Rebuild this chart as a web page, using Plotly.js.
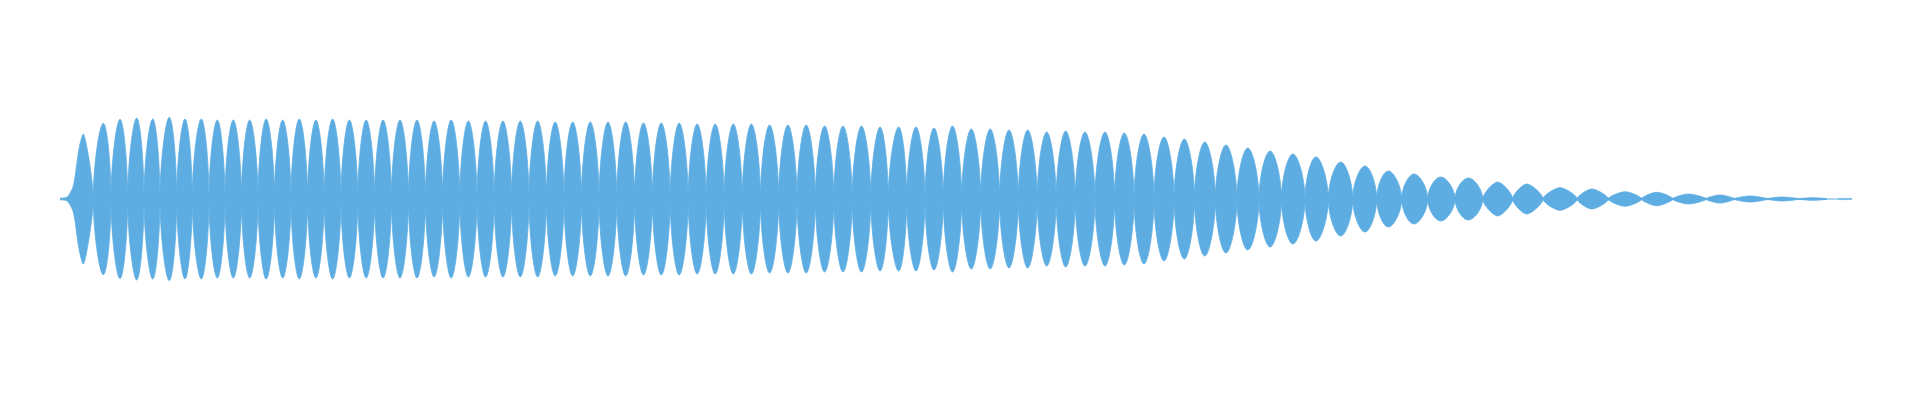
<!DOCTYPE html>
<html>
<head>
<meta charset="utf-8">
<script src="https://cdn.plot.ly/plotly-3.0.1.min.js"></script>
<style>html,body{margin:0;padding:0;background:#fff;}#chart{width:1920px;height:400px;}</style>
</head>
<body>
<div id="chart"></div>
<script>
// Onset of the waveform (first lobe, rising edge): time and amplitude
const onsetTime = [60, 66, 70, 73, 75, 78.3, 81, 83.3];
const onsetAmp  = [0.007, 0.01, 0.057, 0.12, 0.22, 0.46, 0.59, 0.65];
const onsetEnd  = 93.3;   // first zero crossing after the onset lobe

// Lobe peak times (time units), peak amplitudes, and zero-crossing times of the waveform
const peakTime = [
  103.3, 120, 136.7, 152.7, 169.3, 185, 201.3, 217.3, 233.3,
  249.7, 266.2, 282.7, 299.3, 315.9, 332.6, 349.4, 366.2, 383.1, 400.0,
  417.0, 434.1, 451.2, 468.4, 485.6, 502.9, 520.3, 537.7, 555.2, 572.7,
  590.3, 608.0, 625.7, 643.5, 661.3, 679.2, 697.2, 715.2, 733.3, 751.4,
  769.6, 787.9, 806.2, 824.6, 843.0, 861.5, 880.1, 898.7,
  916, 934, 952.5, 971.3, 990.2,
  1009, 1027.7, 1046.7, 1065.7, 1085, 1105, 1124.3, 1144, 1164, 1184.3,
  1204.8, 1226, 1247.8, 1270.1, 1292.9,
  1316, 1340.7, 1365, 1388.3, 1414, 1440.7, 1468.3, 1497.7, 1526.7,
  1560, 1591.7, 1625, 1656.7, 1688.3, 1720, 1750, 1782, 1813
];
const peakAmp = [
  0.757, 0.797, 0.81, 0.80, 0.817, 0.80, 0.80, 0.79, 0.79,
  0.79, 0.80, 0.79, 0.80, 0.79, 0.80, 0.79, 0.79, 0.79, 0.79,
  0.79, 0.78, 0.79, 0.78, 0.78, 0.78, 0.78, 0.78, 0.77, 0.77,
  0.77, 0.77, 0.77, 0.76, 0.76, 0.76, 0.75, 0.75, 0.75, 0.75,
  0.74, 0.74, 0.74, 0.73, 0.73, 0.73, 0.72, 0.72,
  0.72, 0.71, 0.73, 0.70, 0.70,
  0.69, 0.69, 0.67, 0.68, 0.67, 0.67, 0.66, 0.65, 0.62, 0.60,
  0.57, 0.54, 0.51, 0.48, 0.45,
  0.42, 0.37, 0.33, 0.28, 0.25, 0.22, 0.21, 0.17, 0.15,
  0.113, 0.10, 0.073, 0.067, 0.05, 0.04, 0.03, 0.02, 0.013
];
const zeroTime = [
  93.3, 111, 127.7, 144, 160, 176.7, 192.3, 209, 225, 241.5,
  258, 274.5, 291, 307.6, 324.2, 341, 357.8, 374.6, 391.5, 408.5,
  425.5, 442.6, 459.8, 477, 494.2, 511.6, 529, 546.4, 564, 581.5,
  599.1, 616.8, 634.6, 652.4, 670.2, 688.2, 706.2, 724.2, 742.3, 760.5,
  778.7, 797, 815.4, 833.8, 852.2, 870.8, 888.3,
  906.7, 925, 943.3, 961.7, 980.7, 999.6,
  1018.3, 1037.2, 1056.2, 1075.3, 1095, 1114.6, 1134.1, 1154, 1174.1,
  1194.5, 1215.4, 1236.9, 1259, 1281.5, 1305,
  1328.3, 1352.7, 1376.7, 1401.7, 1427.7, 1455, 1482.7, 1512.7, 1543,
  1577.3, 1608.3, 1641.7, 1672.7, 1706, 1734, 1767.5, 1798.5,
  1827
];
// Residual center band (half thickness) read along the time axis
const bandTime = [60, 66, 72, 90, 240, 600, 900, 1200, 1300, 1400, 1550, 1700, 1827, null, 1838, 1852];
const bandHalf = [0.007, 0.012, 0.03, 0.05, 0.05, 0.05, 0.045, 0.035, 0.025, 0.02, 0.012, 0.007, 0.005, null, 0.006, 0.006];

const COLOR = '#5DADE2';
const TAIL_FROM = 1490;   // lobes after this time are drawn with a tighter spline

// first lobe: onset edge up to the peak, down to the first zero, mirrored below
const ox = onsetTime.concat([onsetEnd], onsetTime.slice().reverse());
const oy = onsetAmp.concat([0], onsetAmp.slice().reverse().map(v => -v));

// each lobe: closed outline zero -> +peak -> next zero -> -peak -> zero
const lx = [], ly = [], tx = [], ty = [];
for (let i = 0; i < peakTime.length; i++) {
  const X = peakTime[i] < TAIL_FROM ? lx : tx;
  const Y = peakTime[i] < TAIL_FROM ? ly : ty;
  X.push(zeroTime[i], peakTime[i], zeroTime[i + 1], peakTime[i], zeroTime[i], null);
  Y.push(0, peakAmp[i], 0, -peakAmp[i], 0, null);
}
const bandNeg = bandHalf.map(v => v === null ? null : -v);

const traces = [
  {x: bandTime, y: bandHalf, type: 'scatter', mode: 'lines', line: {color: COLOR, width: 0.6}, hoverinfo: 'skip'},
  {x: bandTime, y: bandNeg, type: 'scatter', mode: 'lines', line: {color: COLOR, width: 0.6}, fill: 'tonexty', fillcolor: COLOR, hoverinfo: 'skip'},
  {x: ox, y: oy, type: 'scatter', mode: 'lines', line: {color: COLOR, width: 0.8, shape: 'spline', smoothing: 0.8}, fill: 'toself', fillcolor: COLOR, hoverinfo: 'skip'},
  {x: lx, y: ly, type: 'scatter', mode: 'lines', connectgaps: false, line: {color: COLOR, width: 0.8, shape: 'spline', smoothing: 1.3}, fill: 'toself', fillcolor: COLOR, hoverinfo: 'skip'},
  {x: tx, y: ty, type: 'scatter', mode: 'lines', connectgaps: false, line: {color: COLOR, width: 0.8, shape: 'spline', smoothing: 0.9}, fill: 'toself', fillcolor: COLOR, hoverinfo: 'skip'}
];

const layout = {
  width: 1920, height: 400,
  margin: {l: 0, r: 0, t: 0, b: 0},
  paper_bgcolor: '#ffffff', plot_bgcolor: '#ffffff',
  showlegend: false,
  xaxis: {range: [0, 1920], visible: false, fixedrange: true},
  yaxis: {range: [-2.01, 1.99], visible: false, fixedrange: true}
};

Plotly.newPlot('chart', traces, layout, {displayModeBar: false, staticPlot: true});
</script>
</body>
</html>
